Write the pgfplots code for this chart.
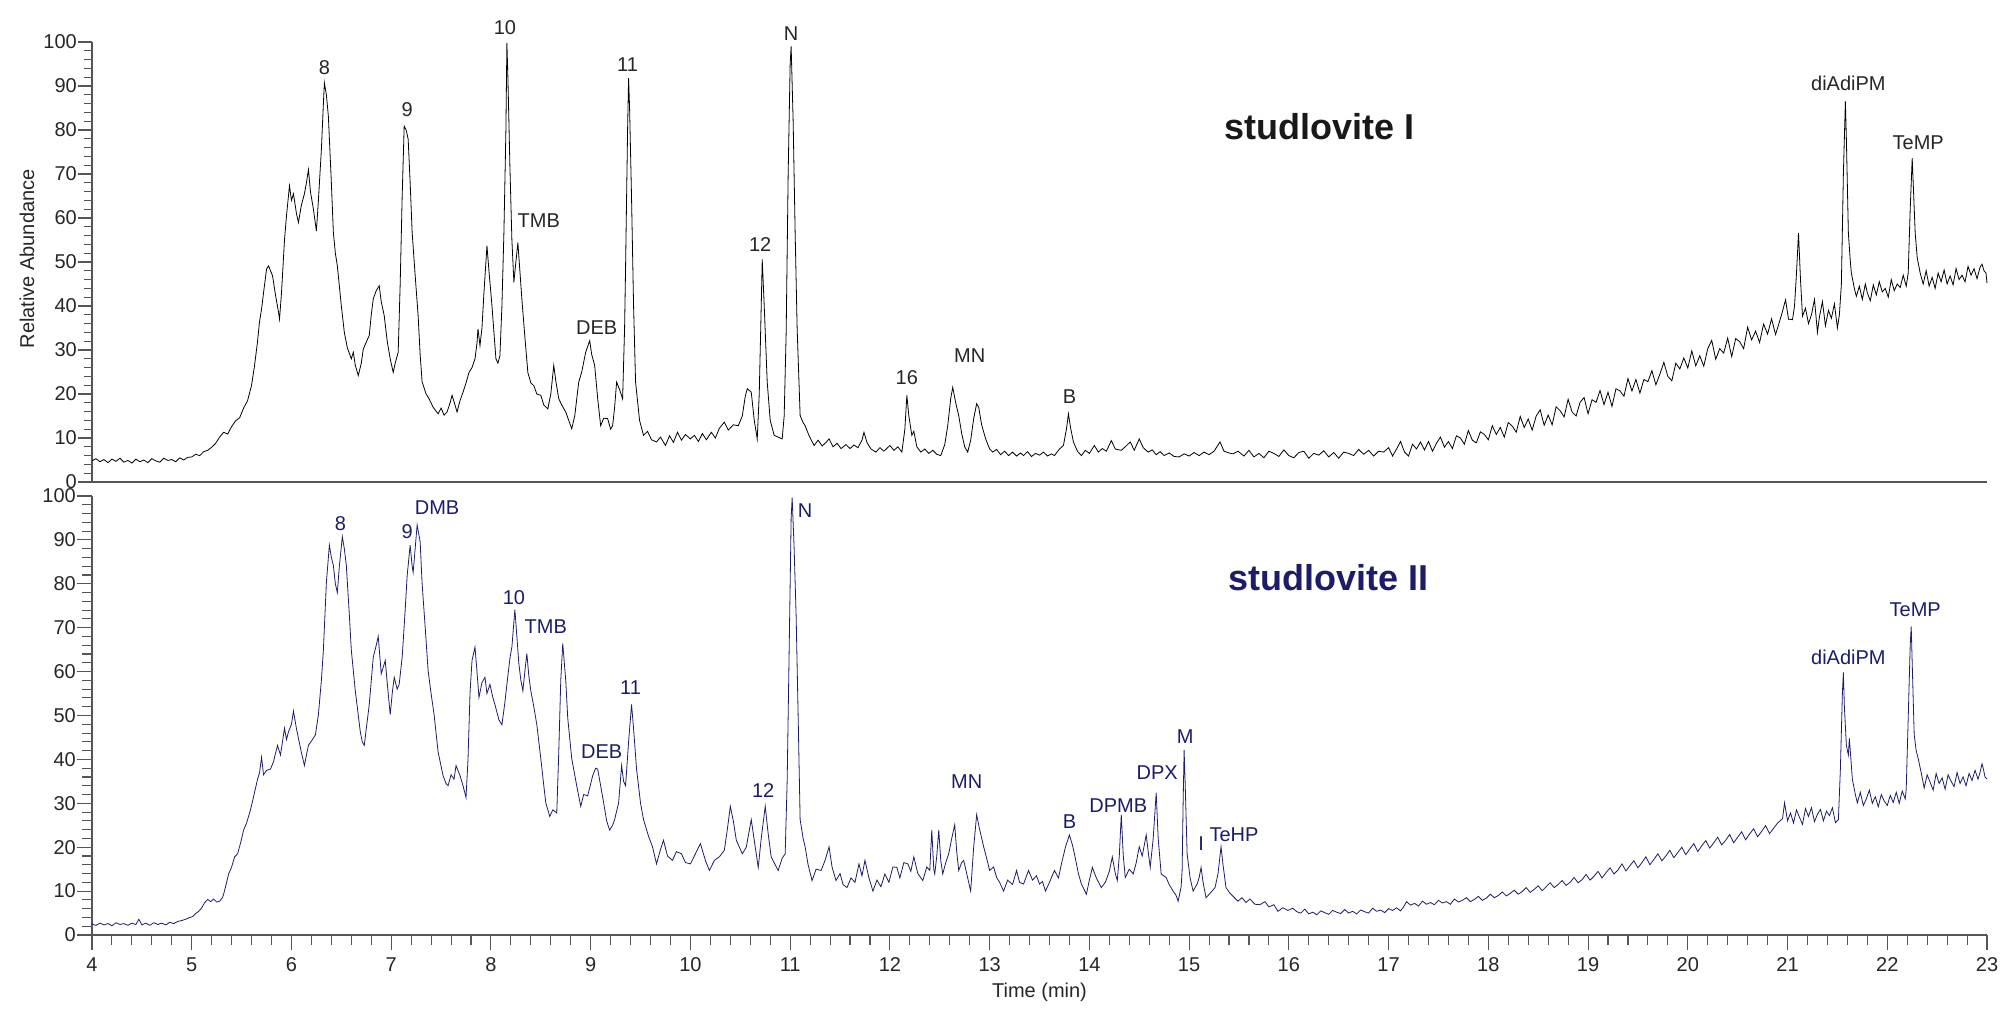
\documentclass[border=0pt]{standalone}
\usepackage{fontspec}
\setmainfont{Liberation Sans}
\usepackage{pgfplots}
\pgfplotsset{compat=1.18}
\definecolor{navy}{RGB}{28,28,105}
\definecolor{axgray}{RGB}{85,85,85}
\newcommand{\lab}{\fontsize{20}{24}\selectfont}
\pgfplotsset{
  chrom/.style={
    scale only axis, width=1895pt,
    xmin=4, xmax=23, ymin=0, ymax=100,
    axis x line*=bottom, axis y line*=left,
    axis line style={axgray, line width=1.2pt},
    every tick/.style={axgray, line width=1.1pt},
    tick align=outside,
    major tick length=14pt, minor tick length=8pt,
    ytick={0,10,...,100}, minor y tick num=4,
    /pgf/number format/assume math mode=true,
    tick label style={font=\lab, text=black!85},
    yticklabel style={inner sep=1pt},
    clip=false,
  }
}
\begin{document}
\begin{tikzpicture}
\path[use as bounding box] (0,0) rectangle (2007pt,1013pt);
% ---------------- top panel ----------------
\begin{axis}[chrom, at={(92pt,531pt)}, anchor=south west, height=440pt,
  xtick=\empty, xticklabels={}]
\addplot[black, line width=0.8pt] coordinates {
(4.00,4.8)(4.04,5.3)(4.08,4.6)(4.12,5.1)(4.16,4.4)(4.20,5.2)(4.24,4.7)(4.28,5.4)(4.32,4.5)(4.36,4.9)
(4.40,4.3)(4.44,5.2)(4.48,4.6)(4.52,5.0)(4.56,4.4)(4.60,5.3)(4.64,4.8)(4.68,4.5)(4.72,5.4)(4.76,4.9)
(4.80,5.1)(4.84,4.6)(4.88,5.5)(4.92,5.0)(4.96,5.6)(5.00,5.7)(5.04,6.3)(5.08,6.0)(5.12,6.9)(5.16,7.2)
(5.20,7.9)(5.24,8.8)(5.28,10.2)(5.32,11.3)(5.36,10.9)(5.40,12.6)(5.44,13.9)(5.48,14.6)(5.52,16.8)(5.56,18.5)
(5.60,22.0)(5.63,26.5)(5.66,32.0)(5.68,36.5)(5.70,39.3)(5.72,43.0)(5.75,48.4)(5.77,49.1)(5.79,48.0)(5.81,46.9)
(5.84,42.5)(5.87,38.6)(5.88,37.0)(5.90,43.0)(5.93,55.0)(5.95,60.5)(5.98,67.3)(6.00,64.0)(6.02,65.5)(6.05,61.0)
(6.07,59.0)(6.10,63.0)(6.13,65.5)(6.15,68.0)(6.17,71.0)(6.19,66.0)(6.22,62.0)(6.25,57.0)(6.27,64.0)(6.30,75.6)
(6.32,86.0)(6.33,90.7)(6.35,88.0)(6.37,83.1)(6.40,68.0)(6.42,56.7)(6.44,52.0)(6.46,49.1)(6.50,40.0)(6.53,34.0)
(6.56,30.5)(6.60,28.0)(6.62,29.5)(6.64,26.5)(6.67,24.2)(6.70,27.0)(6.72,30.2)(6.75,31.8)(6.78,33.3)(6.80,38.0)
(6.82,41.6)(6.85,43.5)(6.88,44.6)(6.90,41.0)(6.93,37.8)(6.96,32.0)(6.99,28.0)(7.02,24.9)(7.04,27.0)(7.07,29.5)
(7.09,45.0)(7.11,65.0)(7.13,80.9)(7.15,80.0)(7.17,77.9)(7.19,68.0)(7.21,56.7)(7.24,47.0)(7.27,37.8)(7.29,29.0)
(7.31,22.7)(7.35,20.0)(7.38,18.9)(7.42,17.0)(7.47,15.5)(7.50,16.8)(7.53,15.2)(7.56,15.9)(7.59,18.0)(7.61,19.7)
(7.64,17.5)(7.66,15.9)(7.69,18.5)(7.72,20.4)(7.75,22.5)(7.78,24.9)(7.81,26.0)(7.84,28.0)(7.86,31.5)(7.87,34.8)
(7.89,31.0)(7.91,35.0)(7.93,43.1)(7.96,53.7)(7.98,48.0)(8.01,40.1)(8.03,34.0)(8.05,28.0)(8.07,27.0)(8.09,28.7)
(8.11,40.0)(8.13,56.7)(8.15,80.0)(8.16,99.8)(8.17,92.0)(8.19,71.8)(8.21,55.0)(8.23,45.4)(8.25,50.0)(8.27,54.4)
(8.29,48.0)(8.31,41.6)(8.34,33.0)(8.37,24.9)(8.40,22.5)(8.43,21.9)(8.46,20.0)(8.50,19.7)(8.53,17.5)(8.57,16.6)
(8.60,20.0)(8.63,26.5)(8.65,23.0)(8.68,18.9)(8.71,17.5)(8.75,15.9)(8.78,14.0)(8.81,12.1)(8.84,15.0)(8.88,22.7)
(8.91,25.0)(8.95,29.5)(8.99,32.1)(9.01,29.0)(9.04,26.5)(9.07,19.0)(9.10,12.8)(9.13,14.5)(9.17,14.4)(9.20,12.0)
(9.22,12.8)(9.24,17.0)(9.26,22.7)(9.29,21.0)(9.32,18.9)(9.34,35.0)(9.35,49.1)(9.37,80.0)(9.38,91.8)(9.39,85.0)
(9.41,64.2)(9.43,40.0)(9.45,22.7)(9.49,14.0)(9.53,10.6)(9.57,11.5)(9.61,9.6)(9.66,9.1)(9.70,10.2)(9.75,8.3)
(9.79,10.5)(9.83,9.0)(9.87,11.3)(9.91,9.5)(9.95,10.8)(10.00,9.8)(10.04,10.6)(10.08,9.2)(10.12,11.0)(10.16,9.6)
(10.21,11.3)(10.25,10.0)(10.29,12.2)(10.34,13.6)(10.38,11.8)(10.43,13.0)(10.48,12.8)(10.52,15.0)(10.55,19.5)(10.57,21.2)
(10.61,20.4)(10.64,14.0)(10.67,9.8)(10.69,20.0)(10.71,40.0)(10.72,50.6)(10.74,40.0)(10.77,22.7)(10.80,14.0)(10.84,10.6)
(10.88,10.2)(10.92,9.8)(10.94,15.0)(10.96,34.0)(10.98,70.0)(11.00,95.0)(11.01,99.0)(11.03,82.0)(11.05,56.7)(11.07,35.0)
(11.10,15.1)(11.13,13.5)(11.15,12.8)(11.19,10.5)(11.24,8.3)(11.28,9.5)(11.32,8.2)(11.36,9.0)(11.39,9.8)(11.43,8.0)
(11.47,8.8)(11.51,7.6)(11.56,8.5)(11.60,7.6)(11.64,8.4)(11.68,7.8)(11.72,9.5)(11.74,11.3)(11.77,9.0)(11.81,7.5)
(11.86,6.8)(11.90,7.8)(11.94,7.0)(12.00,8.3)(12.04,7.2)(12.08,8.0)(12.12,6.8)(12.15,12.0)(12.17,19.7)(12.19,15.0)
(12.22,10.6)(12.24,11.5)(12.27,8.0)(12.31,6.8)(12.35,7.5)(12.39,6.5)(12.43,7.2)(12.47,6.3)(12.51,6.0)(12.55,8.5)
(12.58,12.8)(12.61,19.0)(12.63,21.5)(12.66,18.0)(12.69,15.1)(12.72,11.0)(12.75,8.0)(12.78,6.8)(12.81,9.5)(12.84,14.4)
(12.87,17.8)(12.89,17.0)(12.92,13.0)(12.96,9.8)(13.00,7.5)(13.03,6.8)(13.07,7.4)(13.11,6.2)(13.15,7.0)(13.19,6.0)
(13.23,6.8)(13.27,5.9)(13.31,6.6)(13.34,6.0)(13.38,6.9)(13.42,5.8)(13.46,6.5)(13.50,6.1)(13.54,6.8)(13.58,5.9)
(13.62,6.4)(13.65,6.0)(13.70,7.5)(13.74,8.3)(13.77,12.0)(13.79,15.5)(13.81,12.5)(13.84,9.1)(13.88,7.0)(13.92,6.0)
(13.96,7.2)(14.00,6.5)(14.05,8.3)(14.09,6.8)(14.13,7.6)(14.17,7.0)(14.22,9.4)(14.26,7.5)(14.32,7.2)(14.36,8.0)
(14.41,9.1)(14.45,7.2)(14.50,9.8)(14.54,7.8)(14.59,6.8)(14.63,7.3)(14.67,6.2)(14.71,6.9)(14.75,6.0)(14.80,6.6)
(14.85,5.8)(14.90,5.7)(14.95,6.4)(15.00,5.9)(15.05,6.7)(15.10,6.0)(15.15,6.8)(15.20,6.2)(15.25,7.0)(15.31,9.1)
(15.35,7.0)(15.40,6.6)(15.44,6.4)(15.49,7.0)
(15.55,5.9)(15.60,7.2)(15.65,5.7)(15.70,6.5)(15.75,5.5)(15.80,7.0)(15.85,6.5)(15.90,5.8)(15.95,7.3)(16.00,6.0)
(16.05,5.5)(16.10,6.7)(16.15,7.0)(16.20,5.4)(16.25,6.5)(16.30,6.1)(16.35,7.1)(16.40,5.7)(16.45,6.7)(16.50,5.4)
(16.55,6.8)(16.60,6.5)(16.65,6.0)(16.70,7.4)(16.75,6.3)(16.80,7.2)(16.85,5.9)(16.90,7.0)(16.95,6.8)(17.00,7.8)
(17.04,5.9)(17.08,7.5)(17.12,9.2)(17.16,6.8)(17.20,5.9)(17.24,8.6)(17.28,7.5)(17.32,9.1)(17.36,7.3)(17.40,9.2)
(17.44,7.0)(17.48,8.8)(17.52,10.2)(17.56,7.9)(17.60,9.2)(17.64,7.6)(17.68,10.5)(17.72,10.0)(17.76,8.6)(17.80,11.7)
(17.84,9.5)(17.88,8.9)(17.92,11.4)(17.96,10.8)(18.00,9.6)(18.04,12.8)(18.08,10.8)(18.12,12.4)(18.16,10.2)(18.20,13.5)
(18.24,12.7)(18.28,11.3)(18.32,14.9)(18.36,12.4)(18.40,14.3)(18.44,11.8)(18.48,15.0)(18.52,16.4)(18.56,12.9)(18.60,15.2)
(18.64,13.0)(18.68,17.1)(18.72,16.2)(18.76,14.8)(18.80,18.8)(18.84,15.9)(18.88,15.0)(18.92,18.1)(18.96,19.2)(19.00,15.5)
(19.04,18.7)(19.08,18.1)(19.12,20.8)(19.16,17.6)(19.20,20.4)(19.24,17.2)(19.28,21.2)(19.32,20.7)(19.36,19.5)(19.40,23.5)
(19.44,20.7)(19.48,23.3)(19.52,20.2)(19.56,23.3)(19.60,22.8)(19.64,25.3)(19.68,22.1)(19.72,24.5)(19.76,27.2)(19.80,24.0)
(19.84,23.0)(19.88,27.0)(19.92,25.7)(19.96,28.2)(20.00,25.9)(20.04,29.8)(20.08,26.4)(20.12,28.7)(20.16,26.3)(20.20,30.3)
(20.24,32.2)(20.28,27.9)(20.32,30.3)(20.36,29.3)(20.40,32.7)(20.44,28.5)(20.48,32.6)(20.52,31.9)(20.56,30.3)(20.60,35.2)
(20.64,32.3)(20.68,34.3)(20.72,31.7)(20.76,35.9)(20.80,33.6)(20.84,37.1)(20.88,33.5)(20.94,38.0)(20.98,41.4)(21.01,37.0)
(21.05,36.9)(21.07,40.0)(21.09,47.5)(21.11,56.6)(21.13,46.0)(21.15,37.7)(21.18,39.5)(21.21,36.0)(21.24,38.0)(21.27,41.5)
(21.30,34.0)(21.32,37.5)(21.35,41.0)(21.38,35.5)(21.41,39.0)(21.44,37.2)(21.47,40.5)(21.50,35.0)(21.52,38.0)(21.54,45.0)
(21.56,70.0)(21.58,86.5)(21.59,78.0)(21.61,56.6)(21.63,50.0)(21.64,47.5)(21.67,44.0)(21.69,42.2)(21.72,44.5)(21.75,41.5)
(21.78,45.0)(21.80,43.0)(21.83,41.2)(21.86,44.8)(21.89,42.5)(21.92,45.5)(21.95,43.2)(21.98,44.0)(22.01,42.0)(22.04,46.0)
(22.07,43.5)(22.10,45.0)(22.13,44.2)(22.16,47.0)(22.19,44.5)(22.21,47.5)(22.23,62.0)(22.25,73.6)(22.26,68.0)(22.28,56.6)
(22.30,51.0)(22.33,47.5)(22.36,45.0)(22.39,48.0)(22.42,44.5)(22.45,46.5)(22.48,44.0)(22.51,47.5)(22.54,45.5)(22.57,48.2)
(22.60,45.0)(22.63,46.8)(22.66,44.8)(22.69,48.5)(22.72,46.0)(22.75,47.0)(22.78,45.5)(22.81,49.0)(22.84,47.0)(22.87,48.5)
(22.90,46.2)(22.93,48.8)(22.95,49.5)(22.97,48.0)(22.99,47.5)(23.00,45.2)
};
\begin{scope}[every node/.style={font=\lab, text=black!85, inner sep=0pt}]
\node at (axis cs:6.33,94.1) {8};
\node at (axis cs:7.16,84.7) {9};
\node at (axis cs:8.14,103.2) {10};
\node at (axis cs:8.48,59.3) {TMB};
\node at (axis cs:9.06,35.1) {DEB};
\node at (axis cs:9.37,94.9) {11};
\node at (axis cs:10.70,54.0) {12};
\node at (axis cs:11.01,102.0) {N};
\node at (axis cs:12.17,23.8) {16};
\node at (axis cs:12.80,28.7) {MN};
\node at (axis cs:13.80,19.3) {B};
\node at (axis cs:21.61,90.7) {diAdiPM};
\node at (axis cs:22.31,77.0) {TeMP};
\end{scope}
\node[font=\fontsize{36}{40}\selectfont\bfseries, text=black!90] at (axis cs:16.31,80.7) {studlovite I};
\node[rotate=90, font=\lab, text=black!85] at ([xshift=-65pt]rel axis cs:0,0.507) {Relative Abundance};
\end{axis}
% ---------------- bottom panel ----------------
\begin{axis}[chrom, at={(92pt,78pt)}, anchor=south west, height=439pt,
  xtick={4,5,...,23}, minor x tick num=4, minor tick length=10pt, major tick length=15pt,
  xticklabel style={yshift=-4pt}]
\addplot[navy, line width=0.8pt] coordinates {
(4.00,2.5)(4.04,2.2)(4.08,2.7)(4.12,2.3)(4.16,2.6)(4.20,2.1)(4.24,2.8)(4.28,2.4)(4.32,2.6)(4.36,2.2)
(4.40,2.7)(4.44,2.4)(4.47,3.6)(4.50,2.3)(4.54,2.7)(4.58,2.2)(4.62,2.8)(4.66,2.4)(4.70,2.7)(4.74,2.3)
(4.78,2.9)(4.82,2.6)(4.86,3.1)(4.90,3.3)(4.94,3.6)(4.98,4.0)(5.01,4.2)(5.04,4.9)(5.07,5.4)(5.10,6.2)
(5.13,7.4)(5.16,8.1)(5.19,7.6)(5.22,8.2)(5.25,7.5)(5.28,7.7)(5.31,8.6)(5.32,9.3)(5.35,12.0)(5.37,13.9)
(5.40,15.5)(5.43,17.8)(5.46,18.5)(5.49,21.0)(5.52,23.9)(5.55,25.5)(5.59,28.6)(5.62,31.5)(5.66,35.5)(5.68,37.0)
(5.70,40.5)(5.72,36.5)(5.75,37.5)(5.79,37.8)(5.82,39.5)(5.86,43.2)(5.89,41.0)(5.93,47.1)(5.95,44.5)(5.97,46.3)
(6.00,48.0)(6.02,51.0)(6.05,47.0)(6.07,44.8)(6.10,41.5)(6.13,38.6)(6.15,41.0)(6.17,43.2)(6.21,44.5)(6.24,45.6)
(6.27,50.2)(6.30,58.0)(6.32,64.9)(6.35,80.3)(6.38,88.8)(6.40,86.0)(6.42,84.2)(6.44,80.0)(6.46,78.0)(6.48,84.0)
(6.51,90.7)(6.53,88.0)(6.55,84.2)(6.58,73.0)(6.60,64.9)(6.64,55.6)(6.69,46.3)(6.71,44.0)(6.73,43.2)(6.75,47.0)
(6.78,52.5)(6.82,63.3)(6.85,66.0)(6.87,68.0)(6.90,59.5)(6.92,61.0)(6.94,62.5)(6.97,55.0)(6.99,50.2)(7.01,55.0)
(7.03,58.7)(7.06,56.0)(7.08,57.1)(7.11,63.3)(7.14,74.0)(7.16,81.9)(7.19,88.8)(7.21,84.0)(7.22,82.6)(7.24,88.0)
(7.26,93.4)(7.29,89.6)(7.31,80.0)(7.34,70.3)(7.37,60.2)(7.40,55.0)(7.43,50.2)(7.47,41.7)(7.52,36.3)(7.55,34.5)
(7.57,34.0)(7.60,36.5)(7.63,35.5)(7.65,38.6)(7.69,36.3)(7.72,34.0)(7.75,31.3)(7.77,40.0)(7.79,55.0)(7.81,62.5)
(7.84,65.6)(7.86,60.0)(7.88,54.1)(7.91,57.5)(7.94,58.7)(7.96,55.0)(7.99,57.1)(8.02,54.0)(8.04,52.5)(8.08,49.0)
(8.11,47.9)(8.14,53.0)(8.16,57.1)(8.19,63.0)(8.21,65.6)(8.24,74.1)(8.26,68.0)(8.28,61.8)(8.30,58.0)(8.32,55.6)
(8.34,60.0)(8.36,64.1)(8.38,59.0)(8.40,55.6)(8.43,52.0)(8.46,47.9)(8.50,40.2)(8.53,34.0)(8.55,30.1)(8.59,27.0)
(8.62,28.5)(8.66,27.8)(8.68,41.7)(8.70,58.0)(8.72,66.4)(8.75,58.0)(8.77,49.4)(8.81,40.2)(8.86,34.0)(8.90,29.3)
(8.93,32.0)(8.97,31.7)(9.02,36.3)(9.05,38.0)(9.07,37.8)(9.10,34.0)(9.13,30.1)(9.16,26.0)(9.19,23.9)(9.22,25.0)
(9.24,26.3)(9.28,30.1)(9.31,38.6)(9.33,35.0)(9.35,34.0)(9.38,44.0)(9.41,52.5)(9.43,47.0)(9.46,37.8)(9.50,30.0)
(9.53,26.3)(9.58,22.5)(9.62,20.1)(9.66,16.2)(9.70,19.5)(9.73,21.6)(9.77,18.0)(9.82,17.0)(9.86,19.0)(9.91,18.5)
(9.95,16.5)(10.00,16.2)(10.05,18.5)(10.10,20.8)(10.15,17.0)(10.19,14.7)(10.24,17.0)(10.29,17.8)(10.34,19.3)(10.37,24.0)
(10.40,29.3)(10.43,26.0)(10.46,21.6)(10.52,18.5)(10.56,20.0)(10.61,26.3)(10.65,20.0)(10.68,15.4)(10.71,22.0)(10.75,29.3)
(10.78,23.0)(10.81,17.8)(10.85,16.0)(10.88,14.7)(10.92,17.5)(10.95,18.5)(10.97,35.0)(10.99,64.9)(11.01,95.0)(11.02,99.6)
(11.04,88.0)(11.06,72.6)(11.08,50.0)(11.10,26.3)(11.13,22.0)(11.15,20.1)(11.18,16.0)(11.22,12.4)(11.26,15.0)(11.31,14.7)
(11.35,17.0)(11.39,20.1)(11.42,15.5)(11.46,12.4)(11.50,14.0)(11.53,11.5)(11.57,10.8)(11.61,13.0)(11.65,12.0)(11.69,16.2)
(11.72,13.5)(11.75,17.0)(11.79,13.0)(11.83,10.0)(11.87,12.5)(11.91,11.0)(11.95,13.9)(11.99,12.0)(12.03,15.5)(12.07,15.4)
(12.10,13.0)(12.14,16.5)(12.18,16.2)(12.21,14.5)(12.24,17.8)(12.28,14.0)(12.33,12.4)(12.37,15.5)(12.40,14.7)(12.42,23.9)
(12.44,15.0)(12.45,13.9)(12.47,18.0)(12.49,23.9)(12.51,17.0)(12.53,13.9)(12.56,16.5)(12.59,18.5)(12.62,22.0)(12.65,25.1)
(12.67,19.0)(12.69,14.7)(12.72,16.5)(12.74,17.0)(12.78,13.0)(12.81,10.0)(12.84,20.0)(12.87,27.4)(12.90,24.0)(12.94,20.1)
(12.97,17.5)(13.00,14.7)(13.04,15.5)(13.07,13.1)(13.10,12.0)(13.14,10.0)(13.18,12.5)(13.23,11.5)(13.27,14.7)(13.30,12.0)
(13.34,11.6)(13.39,14.7)(13.43,12.5)(13.47,13.5)(13.50,11.6)(13.53,12.2)(13.56,10.0)(13.60,12.0)(13.65,14.7)(13.69,13.0)
(13.72,16.2)(13.76,20.0)(13.80,22.8)(13.83,20.5)(13.85,18.5)(13.89,14.0)(13.92,11.6)(13.97,9.3)(14.00,12.5)(14.03,15.4)
(14.07,13.0)(14.12,10.8)(14.16,12.0)(14.20,14.5)(14.23,17.8)(14.26,14.0)(14.28,12.4)(14.30,18.0)(14.32,27.4)(14.34,18.0)
(14.36,13.1)(14.40,15.0)(14.44,13.9)(14.47,16.5)(14.50,20.1)(14.53,18.0)(14.57,22.8)(14.59,19.0)(14.61,15.4)(14.64,22.0)
(14.67,32.4)(14.69,22.0)(14.72,13.9)(14.77,13.1)(14.80,11.5)(14.84,10.0)(14.87,9.0)(14.89,7.7)(14.92,11.0)(14.93,14.7)
(14.94,30.0)(14.95,42.1)(14.96,35.0)(14.98,18.5)(15.01,13.0)(15.04,10.0)(15.08,11.6)(15.10,13.0)(15.12,15.4)(15.14,12.0)
(15.17,8.5)(15.21,9.5)(15.26,10.8)(15.29,14.0)(15.32,20.1)(15.34,16.0)(15.37,10.8)(15.41,9.5)(15.45,8.6)(15.49,7.7)
(15.53,8.5)(15.57,7.4)(15.61,8.2)(15.66,7.0)(15.71,6.9)(15.76,7.6)(15.80,6.4)(15.85,6.9)(15.89,5.4)(15.94,6.2)
(15.99,5.6)(16.04,6.1)(16.08,5.3)(16.12,5.0)(16.16,5.9)(16.20,4.8)(16.24,5.2)(16.28,4.6)(16.32,5.5)(16.36,5.1)
(16.40,4.7)(16.44,5.6)(16.48,5.2)(16.52,4.9)(16.56,5.8)(16.60,5.0)(16.64,5.4)(16.68,4.8)(16.72,5.7)(16.76,5.3)
(16.80,5.0)(16.84,6.1)(16.88,5.4)(16.92,5.7)(16.96,5.1)(17.00,6.0)(17.04,5.6)(17.08,6.2)(17.12,5.5)(17.15,6.4)
(17.18,7.6)(17.22,6.8)(17.26,7.2)(17.30,6.6)(17.34,7.7)(17.38,7.0)(17.42,7.4)(17.46,6.9)(17.50,7.9)(17.54,7.3)
(17.58,7.6)(17.62,7.0)(17.66,8.2)(17.70,7.5)(17.74,7.9)(17.78,8.5)(17.82,7.6)(17.86,8.1)(17.90,8.8)(17.94,7.9)
(17.98,8.4)(18.02,9.3)(18.06,8.5)(18.10,9.0)(18.14,9.8)(18.18,8.9)(18.22,9.5)(18.26,10.2)(18.30,9.3)(18.34,9.9)
(18.38,10.8)(18.42,9.7)(18.46,10.4)(18.50,11.2)(18.54,10.1)(18.58,11.0)(18.62,11.9)(18.66,10.8)(18.70,11.5)(18.74,12.4)
(18.78,11.3)(18.82,12.0)(18.86,13.1)(18.90,11.9)(18.94,12.6)(18.98,13.8)(19.02,12.5)(19.06,13.4)(19.10,14.5)(19.14,13.0)
(19.18,14.2)(19.22,15.3)(19.26,13.9)(19.30,14.8)(19.34,16.2)(19.38,14.6)(19.42,15.8)(19.46,16.9)(19.50,15.3)(19.54,16.5)
(19.58,17.8)(19.62,16.0)(19.66,17.2)(19.70,18.5)(19.74,16.9)(19.78,18.0)(19.82,19.3)(19.86,17.6)(19.90,18.8)(19.94,20.0)
(19.98,18.3)(20.02,19.6)(20.06,20.8)(20.10,19.0)(20.14,20.3)(20.18,21.5)(20.22,19.8)(20.26,21.0)(20.30,22.3)(20.34,20.5)
(20.38,21.6)(20.42,22.9)(20.46,21.0)(20.50,22.3)(20.54,23.5)(20.58,21.7)(20.62,23.0)(20.66,24.2)(20.70,22.4)(20.74,23.6)
(20.78,24.9)(20.82,23.1)(20.86,24.3)(20.90,25.5)(20.95,26.5)(20.97,30.1)(21.00,26.0)(21.03,27.8)(21.06,25.5)(21.09,28.5)
(21.12,26.8)(21.15,25.2)(21.18,28.8)(21.21,27.0)(21.24,29.0)(21.27,25.8)(21.30,27.5)(21.33,28.6)(21.36,26.0)(21.39,28.2)
(21.42,27.2)(21.45,29.0)(21.48,25.6)(21.51,26.3)(21.53,37.8)(21.55,55.0)(21.56,59.8)(21.57,52.0)(21.59,43.2)(21.61,41.0)
(21.62,44.8)(21.65,35.5)(21.68,32.0)(21.70,30.1)(21.73,32.5)(21.76,29.5)(21.79,31.0)(21.82,33.0)(21.85,30.0)(21.88,31.5)
(21.91,29.2)(21.94,32.0)(21.97,30.5)(22.00,29.5)(22.03,31.8)(22.06,30.2)(22.09,32.5)(22.12,30.0)(22.15,32.8)(22.18,31.0)
(22.19,33.2)(22.21,49.4)(22.23,66.0)(22.24,70.3)(22.25,62.0)(22.27,45.6)(22.29,42.0)(22.31,40.2)(22.34,37.0)(22.37,33.5)
(22.40,36.5)(22.43,34.8)(22.46,33.0)(22.49,36.8)(22.52,34.5)(22.55,35.8)(22.58,33.2)(22.61,36.5)(22.64,35.0)(22.67,33.8)
(22.70,37.0)(22.73,34.5)(22.76,36.0)(22.79,34.0)(22.82,36.8)(22.85,35.2)(22.88,37.5)(22.91,35.5)(22.93,37.0)(22.95,39.0)
(22.96,38.2)(22.98,36.0)(23.00,35.5)
};
\begin{scope}[every node/.style={font=\lab, text=navy, inner sep=0pt}]
\node at (axis cs:6.49,93.8) {8};
\node at (axis cs:7.16,91.9) {9};
\node at (axis cs:7.46,97.3) {DMB};
\node at (axis cs:8.23,76.8) {10};
\node at (axis cs:8.55,70.3) {TMB};
\node at (axis cs:9.11,41.7) {DEB};
\node at (axis cs:9.40,56.4) {11};
\node at (axis cs:10.73,33.0) {12};
\node at (axis cs:11.15,96.7) {N};
\node at (axis cs:12.77,34.9) {MN};
\node at (axis cs:13.80,25.9) {B};
\node at (axis cs:14.29,29.5) {DPMB};
\node at (axis cs:14.68,36.9) {DPX};
\node at (axis cs:14.96,45.2) {M};
\node at (axis cs:15.12,20.8) {I};
\node at (axis cs:15.45,22.9) {TeHP};
\node at (axis cs:21.61,63.2) {diAdiPM};
\node at (axis cs:22.28,74.1) {TeMP};
\end{scope}
\node[font=\fontsize{36}{40}\selectfont\bfseries, text=navy] at (axis cs:16.40,81.5) {studlovite II};
\node[font=\lab, text=black!85] at (rel axis cs:0.5,0) [yshift=-57pt] {Time (min)};
\end{axis}
\end{tikzpicture}
\end{document}
